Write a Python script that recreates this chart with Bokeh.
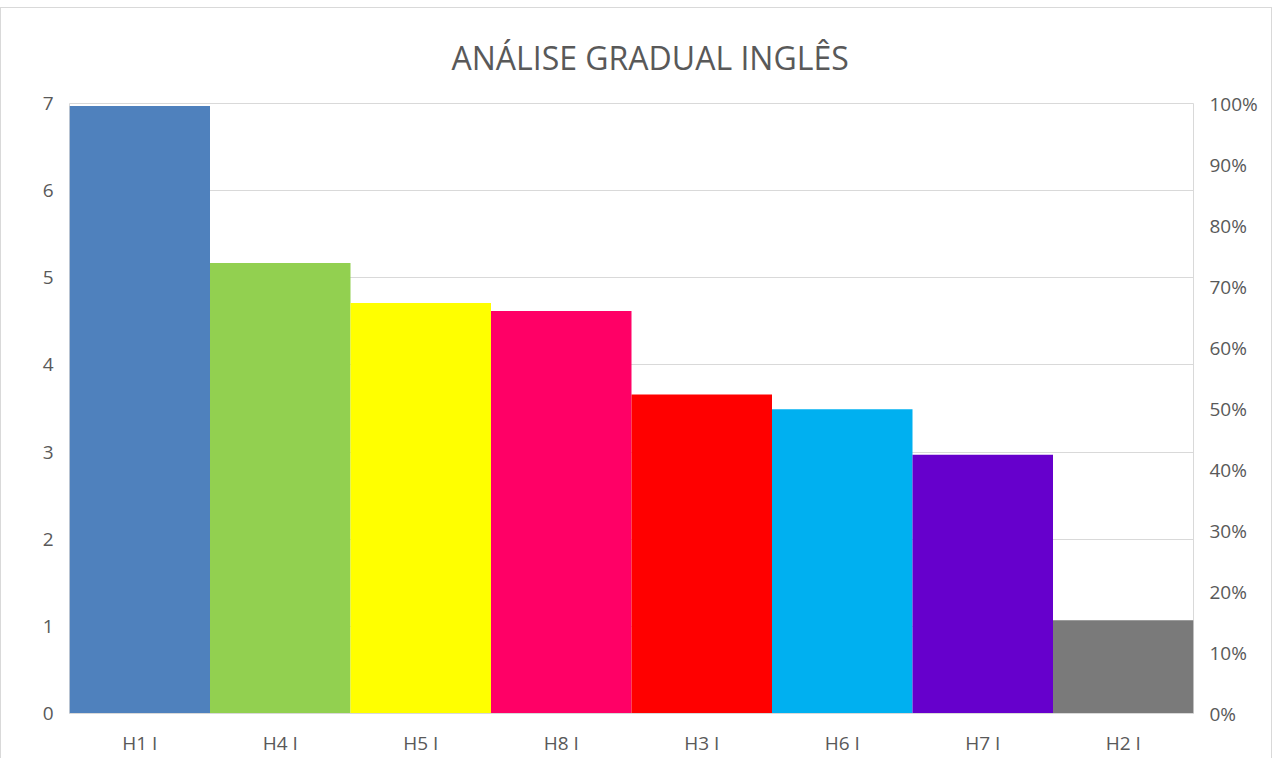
from bokeh.plotting import figure
from bokeh.layouts import column
from bokeh.models import (ColumnDataSource, FactorRange, Range1d, LinearAxis,
                          FixedTicker, NumeralTickFormatter, Spacer)
from bokeh.embed import file_html
from bokeh.resources import INLINE

categories = ["H1 I", "H4 I", "H5 I", "H8 I", "H3 I", "H6 I", "H7 I", "H2 I"]
values = [6.97, 5.17, 4.71, 4.62, 3.66, 3.49, 2.97, 1.07]
colors = ["#4f81bd", "#92d050", "#ffff00", "#ff0066", "#ff0000", "#00b0f0", "#6600cc", "#7a7a7a"]
left_ticks = [0, 1, 2, 3, 4, 5, 6, 7]
right_ticks = [0.0, 0.1, 0.2, 0.3, 0.4, 0.5, 0.6, 0.7, 0.8, 0.9, 1.0]
title_text = "ANÁLISE GRADUAL INGLÊS"

FONT = "Open Sans"
TXT = "#595959"
GRID = "#d9d9d9"

source = ColumnDataSource(dict(cat=categories, val=values, color=colors))

p = figure(x_range=FactorRange(*categories, range_padding=0),
           y_range=Range1d(0, 7),
           frame_width=1122, frame_height=610,
           min_border_left=68, min_border_right=80,
           min_border_top=87, min_border_bottom=38,
           output_backend="svg", toolbar_location=None,
           title=title_text)
p.styles = {"border-left": "1px solid #d9d9d9", "border-right": "1px solid #d9d9d9"}

p.extra_y_ranges = {"pct": Range1d(0, 1)}

p.vbar(x="cat", top="val", width=1.0, color="color", line_color=None, source=source)

p.title.align = "left"
p.title.text_font = FONT
p.title.text_font_size = "32px"
p.title.text_font_style = "normal"
p.title.text_color = TXT
p.title.offset = 382
p.title.standoff = 50

p.outline_line_color = GRID
p.outline_line_width = 1
p.background_fill_color = "white"
p.border_fill_color = "white"

p.xgrid.grid_line_color = None
p.ygrid.grid_line_color = GRID
p.ygrid.ticker = FixedTicker(ticks=left_ticks)

# left axis
ax = p.yaxis[0]
ax.ticker = FixedTicker(ticks=left_ticks)
ax.axis_line_color = None
ax.major_tick_line_color = None
ax.minor_tick_line_color = None
ax.major_tick_in = 0
ax.major_tick_out = 0
ax.major_label_standoff = 16
ax.major_label_text_font = FONT
ax.major_label_text_font_size = "19px"
ax.major_label_text_color = TXT

# right axis
rax = LinearAxis(y_range_name="pct", ticker=FixedTicker(ticks=right_ticks),
                 formatter=NumeralTickFormatter(format="0%"))
rax.axis_line_color = None
rax.major_tick_line_color = None
rax.minor_tick_line_color = None
rax.major_tick_in = 0
rax.major_tick_out = 0
rax.major_label_standoff = 16
rax.major_label_text_font = FONT
rax.major_label_text_font_size = "19px"
rax.major_label_text_color = TXT
p.add_layout(rax, "right")

# x axis
xa = p.xaxis[0]
xa.axis_line_color = GRID
xa.major_tick_line_color = None
xa.minor_tick_line_color = None
xa.major_tick_in = 0
xa.major_tick_out = 0
xa.major_label_standoff = 16
xa.major_label_text_font = FONT
xa.major_label_text_font_size = "19px"
xa.major_label_text_color = TXT

top_rule = Spacer(height=8, width=1272,
                  styles={"border-bottom": "1px solid #d9d9d9", "box-sizing": "border-box"})

layout = column(top_rule, p, spacing=0)

open("out.html", "w").write(file_html(layout, INLINE))
